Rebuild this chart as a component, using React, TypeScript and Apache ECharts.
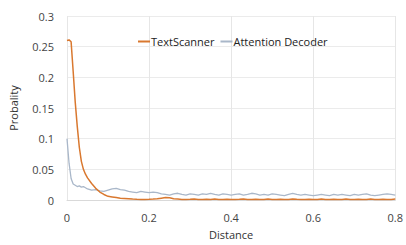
import React, { useEffect, useRef } from "react";
import * as echarts from "echarts";

const distances = [
  0, 0.005, 0.01, 0.015, 0.02, 0.025, 0.03, 0.035, 0.04, 0.045, 0.05,
  0.06, 0.07, 0.08, 0.09, 0.1, 0.11, 0.12, 0.13, 0.14, 0.15, 0.16, 0.17, 0.18, 0.19, 0.2,
  0.21, 0.22, 0.23, 0.24, 0.25, 0.26, 0.27, 0.28, 0.29, 0.3,
  0.31, 0.32, 0.33, 0.34, 0.35, 0.36, 0.37, 0.38, 0.39, 0.4,
  0.41, 0.42, 0.43, 0.44, 0.45, 0.46, 0.47, 0.48, 0.49, 0.5,
  0.51, 0.52, 0.53, 0.54, 0.55, 0.56, 0.57, 0.58, 0.59, 0.6,
  0.61, 0.62, 0.63, 0.64, 0.65, 0.66, 0.67, 0.68, 0.69, 0.7,
  0.71, 0.72, 0.73, 0.74, 0.75, 0.76, 0.77, 0.78, 0.79, 0.8,
];

const textScanner = [
  0.26, 0.261, 0.258, 0.21, 0.16, 0.12, 0.086, 0.063, 0.05, 0.042, 0.036,
  0.027, 0.019, 0.013, 0.009, 0.006, 0.005, 0.004, 0.003, 0.0025, 0.002, 0.0015, 0.0012, 0.001, 0.001, 0.0012,
  0.0015, 0.002, 0.003, 0.004, 0.0035, 0.002, 0.0015, 0.001, 0.001, 0.0012,
  0.0015, 0.001, 0.001, 0.0012, 0.001, 0.0015, 0.001, 0.001, 0.0012, 0.001,
  0.001, 0.0012, 0.0015, 0.001, 0.001, 0.0012, 0.001, 0.001, 0.0015, 0.001,
  0.001, 0.0012, 0.001, 0.001, 0.0015, 0.0012, 0.001, 0.001, 0.0012, 0.001,
  0.001, 0.0015, 0.001, 0.001, 0.0012, 0.001, 0.001, 0.0015, 0.001, 0.001,
  0.0012, 0.001, 0.001, 0.0015, 0.001, 0.001, 0.0012, 0.001, 0.001, 0.0015,
];

const attentionDecoder = [
  0.1, 0.06, 0.035, 0.026, 0.024, 0.022, 0.023, 0.021, 0.022, 0.02, 0.018,
  0.016, 0.017, 0.015, 0.014, 0.016, 0.018, 0.019, 0.017, 0.016, 0.014, 0.013, 0.012, 0.014, 0.013, 0.012,
  0.013, 0.012, 0.01, 0.009, 0.008, 0.01, 0.011, 0.009, 0.008, 0.01,
  0.009, 0.008, 0.01, 0.009, 0.011, 0.009, 0.008, 0.01, 0.009, 0.008,
  0.009, 0.01, 0.008, 0.009, 0.011, 0.01, 0.008, 0.009, 0.008, 0.01,
  0.009, 0.008, 0.007, 0.009, 0.011, 0.009, 0.008, 0.009, 0.008, 0.007,
  0.008, 0.009, 0.008, 0.007, 0.009, 0.008, 0.009, 0.008, 0.007, 0.009,
  0.008, 0.009, 0.01, 0.008, 0.007, 0.008, 0.009, 0.01, 0.009, 0.008,
];

const xTicks = [0, 0.2, 0.4, 0.6, 0.8];
const yTicks = [0, 0.05, 0.1, 0.15, 0.2, 0.25, 0.3];

const FONT = "'Open Sans', 'Noto Sans', sans-serif";

export default function App() {
  const ref = useRef<HTMLDivElement>(null);
  useEffect(() => {
    if (!ref.current) return;
    const chart = echarts.init(ref.current, undefined, { renderer: "svg" });
    chart.setOption({
      animation: false,
      backgroundColor: "#ffffff",
      textStyle: { fontFamily: FONT },
      grid: { left: 65, right: 10, top: 16, bottom: 39, containLabel: false },
      legend: {
        top: 31,
        left: 133,
        itemWidth: 12,
        itemHeight: 2,
        itemGap: 6,
        icon: "rect",
        textStyle: { fontFamily: FONT, fontSize: 11, color: "#222", padding: [0, 0, 0, -4] },
        data: ["TextScanner", "Attention Decoder"],
      },
      xAxis: {
        type: "value",
        min: xTicks[0],
        max: xTicks[xTicks.length - 1],
        interval: 0.2,
        name: "Distance",
        nameLocation: "middle",
        nameGap: 29,
        nameTextStyle: { fontFamily: FONT, fontSize: 11, color: "#333" },
        axisLine: { show: true, lineStyle: { color: "#d9d9d9" } },
        axisTick: { show: false },
        axisLabel: { fontFamily: FONT, fontSize: 11, color: "#444", margin: 12 },
        splitLine: { show: true, lineStyle: { color: "#e6e6e6" } },
      },
      yAxis: {
        type: "value",
        min: yTicks[0],
        max: yTicks[yTicks.length - 1],
        interval: 0.05,
        name: "Probality",
        nameLocation: "middle",
        nameGap: 48,
        nameRotate: 90,
        nameTextStyle: { fontFamily: FONT, fontSize: 11, color: "#333" },
        axisLine: { show: false },
        axisTick: { show: false },
        axisLabel: { fontFamily: FONT, fontSize: 11, color: "#444", margin: 13 },
        splitLine: { show: true, lineStyle: { color: "#ebebeb" } },
      },
      series: [
        {
          name: "TextScanner",
          type: "line",
          data: distances.map((d, i) => [d, textScanner[i]]),
          showSymbol: false,
          symbol: "none",
          lineStyle: { color: "#D9782F", width: 1.5 },
          itemStyle: { color: "#D9782F" },
          z: 3,
        },
        {
          name: "Attention Decoder",
          type: "line",
          data: distances.map((d, i) => [d, attentionDecoder[i]]),
          showSymbol: false,
          symbol: "none",
          lineStyle: { color: "#A9B7C9", width: 1.3 },
          itemStyle: { color: "#A9B7C9" },
          z: 2,
        },
      ],
    });
    return () => chart.dispose();
  }, []);
  return <div ref={ref} style={{ width: 406, height: 245, position: "absolute", left: 0, top: 0 }} />;
}
